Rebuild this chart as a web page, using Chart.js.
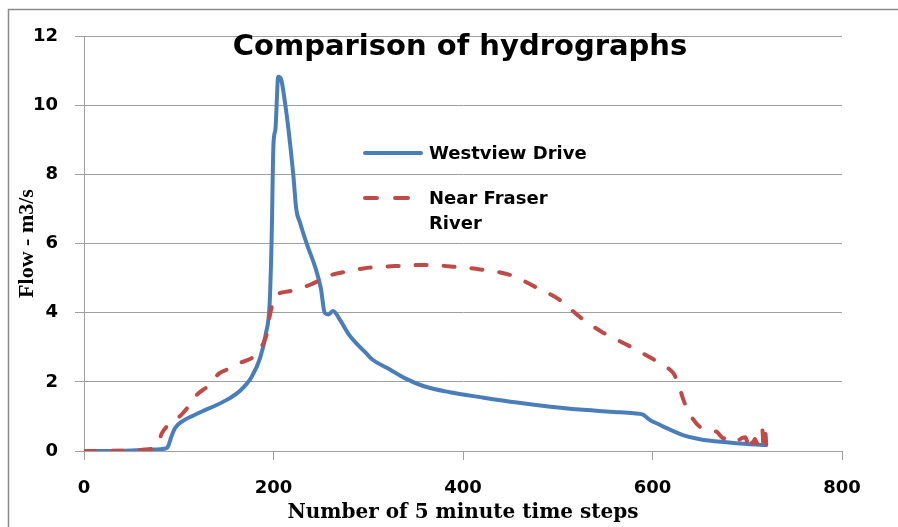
<!DOCTYPE html>
<html lang="en">
<head>
<meta charset="UTF-8">
<title>Comparison of hydrographs</title>
<script src="https://cdn.jsdelivr.net/npm/chart.js"></script>
<style>
  html, body { margin: 0; padding: 0; background: #fff; }
  canvas { display: block; }
</style>
</head>
<body>
<canvas id="chart" width="898" height="527"></canvas>
<script>
// time step (5 min) and flow in m3/s
const westSteps = [0, 40, 70, 87, 89, 92, 96, 105, 115, 125, 136, 154, 165, 177, 186, 192, 196, 198, 200, 202, 205, 208, 212, 216, 221, 224, 228, 235, 245, 250, 254, 258, 263, 270, 280, 288, 297, 305, 320, 339, 358, 386, 420, 457, 490, 527, 560, 580, 590, 597, 606, 615, 632, 650, 678, 700, 720];
const westFlow  = [0, 0.01, 0.04, 0.08, 0.15, 0.4, 0.66, 0.88, 1.02, 1.15, 1.28, 1.53, 1.75, 2.15, 2.7, 3.4, 4.3, 6.1, 8.9, 9.3, 10.82, 10.75, 10.1, 9.25, 7.95, 7.0, 6.6, 6.0, 5.23, 4.7, 4.0, 3.95, 4.05, 3.8, 3.35, 3.1, 2.85, 2.63, 2.4, 2.1, 1.88, 1.7, 1.55, 1.4, 1.29, 1.19, 1.13, 1.09, 1.05, 0.9, 0.78, 0.66, 0.46, 0.34, 0.25, 0.2, 0.17];

const fraserSteps = [0, 40, 60, 75, 78, 82, 87, 95, 101, 110, 119, 130, 143, 155, 165, 179, 189, 193, 196, 200, 203, 217, 238, 260, 280, 295, 316, 330, 358, 390, 418, 450, 478, 502, 520, 527, 548, 576, 601, 615, 622, 627, 633, 640, 650, 660, 668, 675, 682, 689, 695, 698, 701, 703, 706, 708, 711, 713, 716, 717, 719, 720];
const fraserFlow  = [0, 0.01, 0.03, 0.1, 0.2, 0.5, 0.7, 0.88, 1.0, 1.28, 1.62, 1.86, 2.25, 2.4, 2.55, 2.73, 3.1, 3.4, 3.9, 4.35, 4.5, 4.62, 4.8, 5.08, 5.2, 5.28, 5.33, 5.35, 5.38, 5.33, 5.25, 5.09, 4.72, 4.37, 3.95, 3.8, 3.42, 3.03, 2.65, 2.42, 2.25, 1.96, 1.45, 1.04, 0.7, 0.6, 0.55, 0.37, 0.42, 0.3, 0.38, 0.4, 0.2, 0.42, 0.22, 0.35, 0.2, 0.5, 0.6, 0.2, 0.55, 0.2];

const seriesNames = ['Westview Drive', 'Near Fraser River'];
const xTicks = [0, 200, 400, 600, 800];
const yTicks = [0, 2, 4, 6, 8, 10, 12];

const BLUE = '#4a7ebb';
const RED = '#be4b48';
const GRID = '#a0a0a0';

function pts(xs, ys) {
    return xs.map((x, i) => ({ x: x, y: ys[i] }));
}

// frame, title and the in-plot legend
const decor = {
    id: 'decor',
    beforeDraw(chart) {
        const ctx = chart.ctx;
        ctx.save();
        ctx.fillStyle = '#fff';
        ctx.fillRect(0, 0, chart.width, chart.height);
        ctx.strokeStyle = '#8a8a8a';
        ctx.lineWidth = 1.5;
        ctx.strokeRect(8.5, 9.5, 1000, 1000);
        ctx.restore();
    },
    afterDraw(chart) {
        const ctx = chart.ctx;
        const ds = chart.data.datasets;
        ctx.save();
        ctx.fillStyle = '#000';
        ctx.textBaseline = 'middle';
        ctx.textAlign = 'center';
        ctx.font = 'bold 29px "DejaVu Sans"';
        ctx.fillText('Comparison of hydrographs', 460, 47);

        ctx.textAlign = 'left';
        ctx.font = 'bold 18px "DejaVu Sans"';
        ctx.lineWidth = 4;
        ctx.lineCap = 'round';
        ctx.strokeStyle = ds[0].borderColor;
        ctx.beginPath();
        ctx.moveTo(365, 153);
        ctx.lineTo(421, 153);
        ctx.stroke();
        ctx.fillText(ds[0].label, 429, 154);

        ctx.strokeStyle = ds[1].borderColor;
        ctx.beginPath();
        ctx.moveTo(365, 198); ctx.lineTo(377, 198);
        ctx.moveTo(395, 198); ctx.lineTo(408, 198);
        ctx.stroke();
        ctx.fillText('Near Fraser', 429, 199);
        ctx.fillText('River', 429, 224);
        ctx.restore();
    }
};

new Chart(document.getElementById('chart'), {
    type: 'line',
    data: {
        datasets: [
            { label: seriesNames[0], order: 2, data: pts(westSteps, westFlow), borderColor: BLUE, borderWidth: 4, pointRadius: 0, cubicInterpolationMode: 'monotone', borderCapStyle: 'round', borderJoinStyle: 'round' },
            { label: seriesNames[1], order: 1, data: pts(fraserSteps, fraserFlow), borderColor: RED, borderWidth: 4, pointRadius: 0, cubicInterpolationMode: 'monotone', borderDash: [11, 17], borderCapStyle: 'round', borderJoinStyle: 'round' }
        ]
    },
    options: {
        responsive: false,
        animation: false,
        devicePixelRatio: 1,
        layout: { padding: { left: 0, top: 36, right: 56, bottom: 0 } },
        plugins: { legend: { display: false }, title: { display: false }, tooltip: { enabled: false } },
        scales: {
            x: {
                type: 'linear', min: 0, max: 800,
                afterBuildTicks: s => { s.ticks = xTicks.map(v => ({ value: v })); },
                afterFit: s => { s.height = 76; },
                ticks: { color: '#000', padding: 18, font: { family: 'DejaVu Sans', size: 18, weight: 'bold' } },
                grid: { drawOnChartArea: false, drawTicks: true, tickLength: 9, color: GRID },
                border: { color: GRID },
                title: { display: true, text: 'Number of 5 minute time steps', color: '#000', padding: { top: 0, bottom: 2 }, font: { family: 'DejaVu Serif', size: 20, weight: 'bold' } }
            },
            y: {
                min: 0, max: 12,
                afterBuildTicks: s => { s.ticks = yTicks.map(v => ({ value: v })); },
                afterFit: s => { s.width = 84; },
                ticks: { color: '#000', padding: 17, font: { family: 'DejaVu Sans', size: 18, weight: 'bold' } },
                grid: { color: GRID, tickLength: 9 },
                border: { color: GRID },
                title: { display: true, text: 'Flow - m3/s', color: '#000', padding: { top: 14, bottom: 0 }, font: { family: 'Liberation Serif', size: 22, weight: 'bold' } }
            }
        }
    },
    plugins: [decor]
});
</script>
</body>
</html>
